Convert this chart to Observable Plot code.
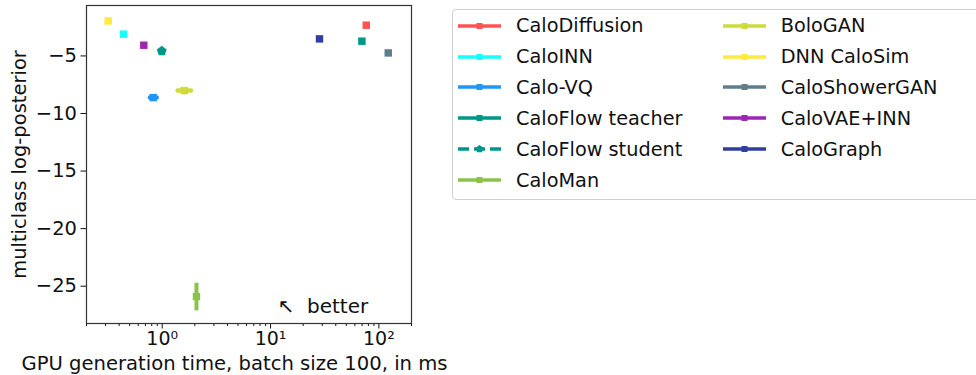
<!DOCTYPE html>
<html>
<head>
<meta charset="utf-8">
<script src="https://cdn.jsdelivr.net/npm/d3@7"></script>
<script src="https://cdn.jsdelivr.net/npm/@observablehq/plot@0.6"></script>
<style>
  html, body { margin: 0; padding: 0; background: #fff; overflow: hidden; }
  body { width: 976px; height: 375px; font-family: "DejaVu Sans", sans-serif; color: #111; }
  #wrap { position: relative; width: 976px; height: 375px; }
  #xlabel { position: absolute; left: 0; width: 469px; text-align: center; top: 354px; font-size: 19.6px; line-height: 1; white-space: nowrap; }
  #legend { position: absolute; left: 452px; top: 9px; width: 620px; height: 189px; border: 1px solid #d0d0d0; border-radius: 4px; background: #fff; }
  .item { position: absolute; height: 24px; display: flex; align-items: center; font-size: 19.3px; white-space: nowrap; }
  .item svg { margin-right: 14px; }
</style>
</head>
<body>
<div id="wrap">
  <div id="chart"></div>
  <div id="xlabel">GPU generation time, batch size 100, in ms</div>
  <div id="legend"></div>
</div>
<script>
// ---- data ----
const names   = ["CaloDiffusion", "CaloINN", "Calo-VQ", "CaloFlow teacher", "CaloFlow student", "CaloMan",
                 "BoloGAN", "DNN CaloSim", "CaloShowerGAN", "CaloVAE+INN", "CaloGraph"];
const colors  = ["#FF5252", "#18FFFF", "#2196F3", "#009688", "#009688", "#8BC34A",
                 "#CDDC39", "#FFEB3B", "#607D8B", "#9C27B0", "#303F9F"];
const times   = [76.5, 0.44, 0.826, 69.7, 0.99, 2.07, 1.6, 0.317, 122, 0.676, 28.3];
const logPost = [-2.33, -3.11, -8.62, -3.72, -4.57, -25.9, -8.01, -1.96, -4.74, -4.07, -3.52];
const timeLo  = [null, null, 0.77, null, null, null, 1.39, null, null, null, null];
const timeHi  = [null, null, 0.89, null, null, null, 1.84, null, null, null, null];
const postLo  = [null, null, null, null, null, -27.1, null, null, null, null, null];
const postHi  = [null, null, null, null, null, -24.7, null, null, null, null, null];
const markers = ["square", "square", "square", "square", "pentagon", "square",
                 "square", "square", "square", "square", "square"];
const dashed  = [false, false, false, false, true, false, false, false, false, false, false];

const xTicks = [1, 10, 100];
const xTickLabels = ["10⁰", "10¹", "10²"];
const xMinorTicks = [0.2, 0.3, 0.4, 0.5, 0.6, 0.7, 0.8, 0.9, 2, 3, 4, 5, 6, 7, 8, 9,
                     20, 30, 40, 50, 60, 70, 80, 90, 200];
const yTicks = [-5, -10, -15, -20, -25];
const yTickLabels = ["−5", "−10", "−15", "−20", "−25"];

const annotText = ["↖  better"];
const annotX = [11.6];
const annotY = [-26.75];

// ---- build table ----
const rows = names.map((n, i) => ({
  name: n, color: colors[i], x: times[i], y: logPost[i],
  xlo: timeLo[i], xhi: timeHi[i], ylo: postLo[i], yhi: postHi[i], marker: markers[i]
}));
const annot = annotText.map((t, i) => ({text: t, x: annotX[i], y: annotY[i]}));

const pentagon = {
  draw(ctx, size) {
    const r = Math.sqrt(size / (2.5 * Math.sin(2 * Math.PI / 5)));
    for (let k = 0; k < 5; ++k) {
      const a = -Math.PI / 2 + k * 2 * Math.PI / 5;
      const px = r * Math.cos(a), py = r * Math.sin(a);
      if (k === 0) ctx.moveTo(px, py); else ctx.lineTo(px, py);
    }
    ctx.closePath();
  }
};

const chart = Plot.plot({
  width: 976,
  height: 375,
  marginLeft: 86,
  marginRight: 565,
  marginTop: 5,
  marginBottom: 52,
  style: {fontFamily: "DejaVu Sans", fontSize: "19px", color: "#111", background: "transparent"},
  x: {type: "log", domain: [0.2, 200]},
  y: {domain: [-28.24, -0.62]},
  color: {type: "identity"},
  marks: [
    Plot.link(rows.filter(d => d.xlo != null), {x1: "xlo", x2: "xhi", y1: "y", y2: "y", stroke: "color", strokeWidth: 4.5, strokeLinecap: "round"}),
    Plot.link(rows.filter(d => d.ylo != null), {x1: "x", x2: "x", y1: "ylo", y2: "yhi", stroke: "color", strokeWidth: 4}),
    Plot.dot(rows.filter(d => d.marker === "square"), {x: "x", y: "y", fill: "color", symbol: "square", r: 4.2}),
    Plot.dot(rows.filter(d => d.marker === "pentagon"), {x: "x", y: "y", fill: "color", symbol: pentagon, r: 4.5}),
    Plot.text(annot, {x: "x", y: "y", text: "text", textAnchor: "start", fontSize: 20, fill: "#111"}),
    Plot.axisX({ticks: xMinorTicks, tickFormat: () => "", tickSize: 3, label: null}),
    Plot.axisX({ticks: xTicks, tickFormat: (d, i) => xTickLabels[xTicks.indexOf(d)], tickSize: 5.5, tickPadding: 2, fontSize: 19, label: null}),
    Plot.axisY({ticks: yTicks, tickFormat: d => yTickLabels[yTicks.indexOf(d)], tickSize: 5.5, tickPadding: 4, fontSize: 19.5,
                label: "multiclass log-posterior", labelAnchor: "center", labelArrow: "none", labelOffset: 74}),
    Plot.frame({stroke: "#333", strokeWidth: 1.2})
  ]
});
document.getElementById("chart").appendChild(chart);

// ---- legend ----
const legend = document.getElementById("legend");
const rowTops = [25.7, 56.7, 87.3, 118.3, 149, 180];
const colHandleX = [458, 722.7];
names.forEach((n, i) => {
  const col = i < 6 ? 0 : 1;
  const row = i < 6 ? i : i - 6;
  const div = document.createElement("div");
  div.className = "item";
  div.style.left = (colHandleX[col] - 453) + "px";
  div.style.top = (rowTops[row] - 10 - 12) + "px";
  const svg = d3.create("svg").attr("width", 44).attr("height", 12);
  svg.append("line").attr("x1", 0).attr("x2", 43).attr("y1", 6).attr("y2", 6)
    .attr("stroke", colors[i]).attr("stroke-width", 3.5)
    .attr("stroke-dasharray", dashed[i] ? "11 5" : null);
  if (markers[i] === "pentagon") {
    const p = d3.path(); pentagon.draw(p, 40);
    svg.append("path").attr("d", p.toString()).attr("transform", "translate(21.5,6)").attr("fill", colors[i]);
  } else {
    svg.append("rect").attr("x", 18.5).attr("y", 3).attr("width", 6).attr("height", 6).attr("fill", colors[i]);
  }
  div.appendChild(svg.node());
  const span = document.createElement("span");
  span.textContent = n;
  div.appendChild(span);
  legend.appendChild(div);
});
</script>
</body>
</html>
